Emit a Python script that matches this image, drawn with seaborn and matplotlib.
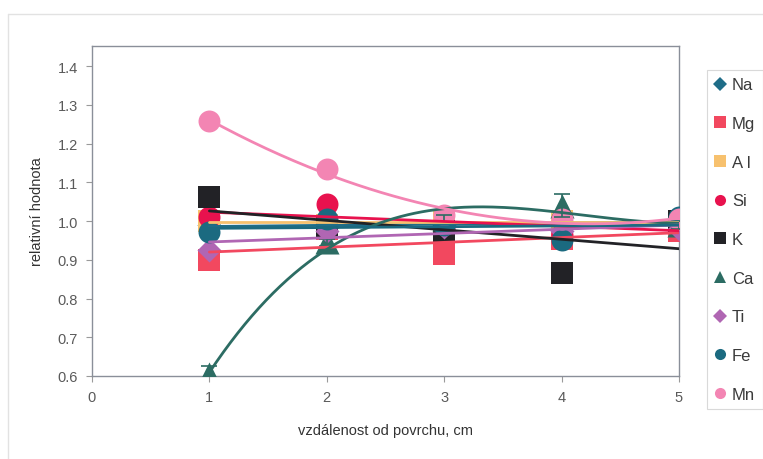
import numpy as np
import pandas as pd
import matplotlib
matplotlib.use("Agg")
import matplotlib.pyplot as plt
from matplotlib.lines import Line2D
import seaborn as sns

# distance from surface, cm
distance = [1, 2, 3, 4, 5]

# relative values per element
na = [0.990, 0.985, 0.990, 0.995, 1.000]
mg = [0.900, 0.980, 0.915, 0.955, 0.975]
al = [1.000, 0.990, 1.000, 1.000, 0.995]
si = [1.010, 1.045, 0.985, 0.965, 0.990]
k = [1.062, 0.985, 0.975, 0.865, 1.000]
ca = [0.605, 0.945, 1.005, 1.040, 0.990]
ti = [0.925, 0.975, 0.985, 0.975, 0.980]
fe = [0.972, 1.005, 0.990, 0.950, 1.010]
mn = [1.258, 1.134, 1.015, 1.005, 1.005]

# error of the calcium measurements
ca_err = [0.020, 0.010, 0.010, 0.030, 0.010]

elements = ["Na", "Mg", "Al", "Si", "K", "Ca", "Ti", "Fe", "Mn"]
legend_labels = ["Na", "Mg", "A l", "Si", "K", "Ca", "Ti", "Fe", "Mn"]
values = [na, mg, al, si, k, ca, ti, fe, mn]

colors = ["#1f6d88", "#f2485f", "#f7c16e", "#e8124e", "#222226",
          "#2c6c63", "#b066b3", "#1b6a80", "#f385b3"]
markers = ["D", "s", "s", "o", "s", "^", "D", "o", "o"]
msizes = [150, 260, 260, 250, 260, 300, 150, 250, 250]
# polynomial degree of each fitted trend curve
trend_deg = [1, 1, 1, 1, 1, 3, 1, 1, 2]

sns.set_theme(style="white")
plt.rcParams["font.family"] = ["Liberation Sans", "DejaVu Sans"]

fig = plt.figure(figsize=(7.63, 4.60), dpi=100)
ax = fig.add_axes([92 / 763, 1 - 377 / 460, (679 - 92) / 763, (377 - 47) / 460])

records = []
for name, vals in zip(elements, values):
    for d, v in zip(distance, vals):
        records.append({"element": name, "distance": d, "value": v})
df = pd.DataFrame(records)

palette = dict(zip(elements, colors))

# markers
for name, m, s in zip(elements, markers, msizes):
    sub = df[df["element"] == name]
    sns.scatterplot(data=sub, x="distance", y="value", color=palette[name],
                    marker=m, s=s, linewidth=0, ax=ax, zorder=3, legend=False)

# calcium error bars
ax.errorbar(distance, ca, yerr=ca_err, fmt="none", ecolor="#2c6c63",
            elinewidth=1.2, capsize=6, capthick=1.2, zorder=3)

# fitted trend curves
xs = np.linspace(1, 5, 200)
for name, vals, deg in zip(elements, values, trend_deg):
    coef = np.polyfit(distance, vals, deg)
    trend = pd.DataFrame({"distance": xs, "value": np.polyval(coef, xs)})
    sns.lineplot(data=trend, x="distance", y="value", color=palette[name],
                 linewidth=2.0, ax=ax, zorder=4, legend=False)

ax.set_xlim(0, 5)
ax.set_ylim(0.6, 1.452)
ax.set_xticks([0, 1, 2, 3, 4, 5])
ax.set_yticks([0.6, 0.7, 0.8, 0.9, 1.0, 1.1, 1.2, 1.3, 1.4])
ax.set_yticklabels(["0.6", "0.7", "0.8", "0.9", "1.0", "1.1", "1.2", "1.3", "1.4"])
ax.tick_params(axis="both", labelsize=10.5, colors="#9a9a9a", labelcolor="#5a5a5a",
               direction="out", length=4, width=0.8, left=True, bottom=True, pad=6)
for sp in ax.spines.values():
    sp.set_color("#8a8f99")
    sp.set_linewidth(1.0)
ax.set_xlabel("vzdálenost od povrchu, cm", fontsize=10.5, color="#333333", labelpad=14)
ax.set_ylabel("relativní hodnota", fontsize=10.5, color="#333333", labelpad=10)

# legend
handles = [Line2D([0], [0], marker=m, color="none", markerfacecolor=c,
                  markeredgewidth=0, markersize=8 if m != "D" else 7)
           for m, c in zip(markers, colors)]
leg = fig.legend(handles, legend_labels, loc="upper left",
                 bbox_to_anchor=(707 / 763, 1 - 71 / 460), borderaxespad=0,
                 frameon=True, fontsize=12, labelspacing=1.42, handlelength=0.7,
                 handletextpad=0.35, borderpad=0.45, labelcolor="#3a3a3a")
leg.get_frame().set_edgecolor("#d0d0d0")
leg.get_frame().set_linewidth(0.8)
leg.get_frame().set_boxstyle("square", pad=0)

# faint outer frame of the chart area
fig.add_artist(Line2D([8 / 763, 8 / 763], [0, 1 - 15 / 460],
                      transform=fig.transFigure, color="#e2e2e2", linewidth=1))
fig.add_artist(Line2D([8 / 763, 1], [1 - 15 / 460, 1 - 15 / 460],
                      transform=fig.transFigure, color="#e2e2e2", linewidth=1))

fig.savefig("out.png", dpi=100)
